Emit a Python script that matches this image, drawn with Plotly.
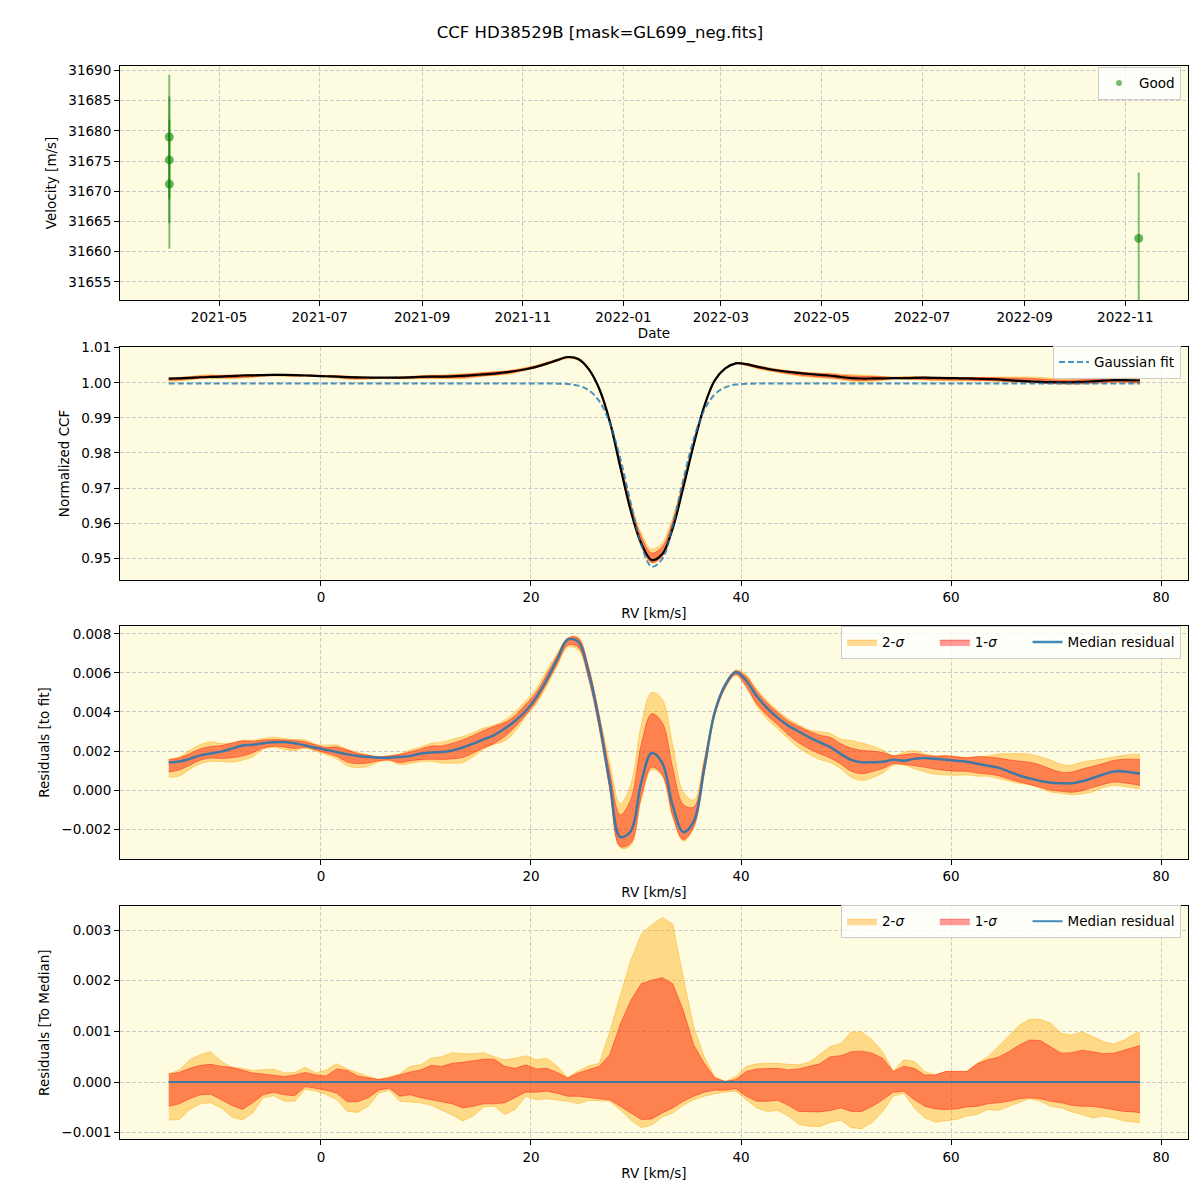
import plotly.graph_objects as go
from plotly.subplots import make_subplots

TITLE = "CCF HD38529B [mask=GL699_neg.fits]"

# --- velocity time series (top panel) ---
OBS_DATES = ["2021-03-31 20:00", "2021-03-31 21:00", "2021-03-31 22:00", "2022-11-09 04:00"]
VEL = [31679.0, 31675.2, 31671.2, 31662.2]
VEL_ERR = [10.3, 10.5, 10.7, 10.9]

# --- CCF grid [km/s] ---
RV = [-14.5, -13.5, -12.5, -11.5, -10.5, -9.5, -8.5, -7.5, -6.5, -5.5,
      -4.5, -3.5, -2.5, -1.5, -0.5, 0.5, 1.5, 2.5, 3.5, 4.5,
      5.5, 6.5, 7.5, 8.5, 9.5, 10.5, 11.5, 12.5, 13.5, 14.5,
      15.5, 16.5, 17.5, 18.5, 19.5, 20.5, 21.5, 22.5, 23.5, 24.5,
      25.5, 26.5, 27.5, 28.5, 29.5, 30.5, 31.5, 32.5, 33.5, 34.5,
      35.5, 36.5, 37.5, 38.5, 39.5, 40.5, 41.5, 42.5, 43.5, 44.5,
      45.5, 46.5, 47.5, 48.5, 49.5, 50.5, 51.5, 52.5, 53.5, 54.5,
      55.5, 56.5, 57.5, 58.5, 59.5, 60.5, 61.5, 62.5, 63.5, 64.5,
      65.5, 66.5, 67.5, 68.5, 69.5, 70.5, 71.5, 72.5, 73.5, 74.5,
      75.5, 76.5, 77.5, 78.0]

# Gaussian fit of the CCF
GAUSS_FIT = [0.9998, 0.9998, 0.9998, 0.9998, 0.9998, 0.9998, 0.9998, 0.9998, 0.9998, 0.9998,
             0.9998, 0.9998, 0.9998, 0.9998, 0.9998, 0.9998, 0.9998, 0.9998, 0.9998, 0.9998,
             0.9998, 0.9998, 0.9998, 0.9998, 0.9998, 0.9998, 0.9998, 0.9998, 0.9998, 0.9998,
             0.9998, 0.9998, 0.9998, 0.9998, 0.9998, 0.9998, 0.9998, 0.99976, 0.99964, 0.9992,
             0.9979, 0.9948, 0.9886, 0.9785, 0.9657, 0.9539, 0.9476, 0.9498, 0.9594, 0.9723,
             0.9840, 0.9922, 0.9967, 0.9987, 0.9995, 0.9997, 0.9998, 0.9998, 0.9998, 0.9998,
             0.9998, 0.9998, 0.9998, 0.9998, 0.9998, 0.9998, 0.9998, 0.9998, 0.9998, 0.9998,
             0.9998, 0.9998, 0.9998, 0.9998, 0.9998, 0.9998, 0.9998, 0.9998, 0.9998, 0.9998,
             0.9998, 0.9998, 0.9998, 0.9998, 0.9998, 0.9998, 0.9998, 0.9998, 0.9998, 0.9998,
             0.9998, 0.9998, 0.9998, 0.9998]

# median residual to the fit
RESID_MED = [0.00141, 0.00146, 0.00160, 0.00178, 0.00188, 0.00197, 0.00212, 0.00228, 0.00232, 0.00240,
             0.00245, 0.00246, 0.00240, 0.00228, 0.00217, 0.00206, 0.00195, 0.00183, 0.00175, 0.00170,
             0.00166, 0.00166, 0.00169, 0.00175, 0.00187, 0.00193, 0.00195, 0.00203, 0.00218, 0.00238,
             0.00260, 0.00282, 0.00315, 0.00355, 0.00405, 0.00475, 0.00565, 0.00670, 0.00770, 0.00760,
             0.00600, 0.00350, 0.00040, -0.00240, -0.00210, 0.00040, 0.00190, 0.00140, -0.00080, -0.00215,
             -0.00160, 0.00110, 0.00400, 0.00540, 0.00605, 0.00560, 0.00480, 0.00420, 0.00370, 0.00330,
             0.00300, 0.00270, 0.00245, 0.00220, 0.00185, 0.00155, 0.00142, 0.00143, 0.00145, 0.00155,
             0.00150, 0.00160, 0.00165, 0.00160, 0.00155, 0.00150, 0.00145, 0.00135, 0.00125, 0.00115,
             0.00095, 0.00075, 0.00060, 0.00047, 0.00038, 0.00035, 0.00035, 0.00045, 0.00062, 0.00080,
             0.00095, 0.00095, 0.00088, 0.00085]

# percentile offsets of the residuals relative to the median (units 1e-4)
OFF_2S_HI = [1.6, 2.4, 4.4, 5.4, 6.0, 4.1, 2.9, 2.7, 2.3, 2.4,
             2.6, 1.8, 1.9, 2.9, 1.8, 2.4, 3.6, 2.6, 1.8, 1.1,
             0.5, 1.1, 1.6, 3.1, 3.4, 4.7, 5.0, 5.8, 5.6, 5.6,
             5.8, 5.0, 4.4, 4.7, 5.2, 4.4, 4.7, 3.1, 0.9, 2.2,
             3.2, 3.7, 9.9, 17.1, 24.0, 29.2, 31.0, 32.5, 31.2, 20.7,
             10.9, 5.0, 1.1, 0.1, 1.1, 3.1, 3.6, 3.7, 3.7, 3.5,
             3.4, 3.9, 5.4, 7.0, 7.6, 9.9, 9.9, 8.3, 6.0, 2.1,
             4.4, 4.1, 2.1, 1.4, 2.1, 2.1, 2.1, 3.7, 5.0, 7.0,
             9.1, 11.2, 12.4, 12.4, 11.6, 9.6, 9.3, 9.9, 9.0, 8.0,
             7.5, 8.3, 9.6, 9.8]
OFF_1S_HI = [1.6, 1.9, 2.7, 3.3, 3.5, 3.1, 2.9, 2.4, 1.8, 1.6,
             1.4, 1.1, 1.4, 1.9, 1.4, 1.2, 2.6, 2.3, 1.2, 0.8,
             0.5, 0.8, 1.4, 2.0, 2.4, 3.3, 3.1, 3.7, 3.9, 4.2,
             4.5, 4.5, 3.1, 2.7, 3.4, 2.6, 2.7, 1.9, 0.8, 1.8,
             2.4, 3.1, 5.4, 11.4, 16.1, 19.4, 20.1, 20.6, 19.4, 14.2,
             7.3, 3.7, 0.8, 0.1, 0.5, 2.1, 2.6, 2.6, 2.7, 2.4,
             2.6, 3.1, 3.6, 5.0, 5.2, 6.0, 6.1, 5.7, 4.7, 2.1,
             3.1, 2.7, 1.4, 1.4, 2.1, 2.1, 2.1, 3.6, 4.4, 4.9,
             6.0, 7.3, 8.3, 8.2, 7.0, 5.7, 5.8, 6.3, 6.0, 5.6,
             5.7, 6.3, 7.0, 7.2]
OFF_1S_LO = [-4.8, -4.3, -3.3, -2.5, -2.4, -3.5, -4.6, -5.4, -4.1, -2.5,
             -2.0, -2.5, -2.7, -0.9, -1.2, -1.6, -2.2, -3.9, -3.9, -3.1,
             -1.6, -1.2, -2.8, -2.5, -3.1, -3.5, -3.8, -4.3, -5.1, -4.8,
             -4.3, -4.3, -4.1, -3.0, -2.0, -2.0, -1.8, -2.2, -2.8, -2.8,
             -3.1, -3.3, -3.5, -4.8, -6.2, -7.4, -7.3, -6.1, -5.1, -3.8,
             -2.8, -2.0, -1.6, -1.6, -1.3, -2.8, -3.8, -3.8, -3.6, -4.6,
             -5.8, -5.9, -5.9, -5.6, -5.1, -5.8, -5.8, -4.8, -3.5, -2.0,
             -1.8, -3.5, -4.8, -5.3, -5.4, -5.3, -4.9, -4.8, -4.3, -4.1,
             -3.8, -3.3, -3.1, -3.3, -3.8, -4.1, -4.6, -4.8, -4.8, -5.1,
             -5.4, -5.8, -5.9, -6.1]
OFF_2S_LO = [-7.5, -7.4, -5.4, -4.3, -4.1, -5.1, -6.9, -7.5, -6.1, -3.1,
             -2.7, -3.8, -3.8, -1.4, -1.8, -2.5, -3.5, -5.8, -6.0, -4.8,
             -2.2, -1.6, -3.8, -3.9, -4.1, -4.6, -5.6, -6.5, -7.7, -6.7,
             -4.9, -4.8, -6.4, -5.4, -2.8, -3.5, -3.3, -3.5, -3.8, -4.3,
             -3.6, -3.7, -3.8, -5.5, -7.5, -9.0, -8.5, -6.9, -6.1, -4.6,
             -3.5, -2.8, -2.3, -2.0, -1.8, -3.5, -5.1, -5.8, -5.6, -6.7,
             -8.4, -8.7, -8.8, -8.0, -7.5, -9.0, -9.2, -8.0, -5.8, -2.8,
             -2.2, -5.1, -7.1, -7.9, -7.7, -7.4, -6.7, -6.4, -5.4, -5.6,
             -4.8, -4.1, -3.3, -3.8, -4.8, -5.1, -5.9, -6.4, -7.1, -6.7,
             -7.1, -7.7, -7.9, -8.0]
OFF_UNIT = 1e-4

ORANGE_FILL = "rgba(255,165,0,0.4)"
RED_FILL = "rgba(255,0,0,0.4)"
BLUE = "rgba(31,119,180,0.85)"
BG = "#FEFCE0"
PAD = "\u00a0" * 6  # extra room between horizontal legend entries

# page offset of the plot div (browser body margin) and figure size
OFF = 8
SIZE = 1184

# derived curves
off2_hi = [o * OFF_UNIT for o in OFF_2S_HI]
off1_hi = [o * OFF_UNIT for o in OFF_1S_HI]
off1_lo = [o * OFF_UNIT for o in OFF_1S_LO]
off2_lo = [o * OFF_UNIT for o in OFF_2S_LO]
zero_med = [m - m for m in RESID_MED]

res_2hi = [m + o for m, o in zip(RESID_MED, off2_hi)]
res_1hi = [m + o for m, o in zip(RESID_MED, off1_hi)]
res_1lo = [m + o for m, o in zip(RESID_MED, off1_lo)]
res_2lo = [m + o for m, o in zip(RESID_MED, off2_lo)]

ccf_med = [g + m for g, m in zip(GAUSS_FIT, RESID_MED)]
ccf_2hi = [g + r for g, r in zip(GAUSS_FIT, res_2hi)]
ccf_1hi = [g + r for g, r in zip(GAUSS_FIT, res_1hi)]
ccf_1lo = [g + r for g, r in zip(GAUSS_FIT, res_1lo)]
ccf_2lo = [g + r for g, r in zip(GAUSS_FIT, res_2lo)]


def fx(px):
    return (px - OFF) / SIZE


def fy(py):
    return 1 - (py - OFF) / SIZE


fig = make_subplots(rows=4, cols=1)


def add_band(lo, hi, color, name, row, legend, shape="linear", show=True):
    fig.add_trace(go.Scatter(x=RV, y=lo, mode="lines", line=dict(color=color, width=1, shape=shape),
                             showlegend=False, hoverinfo="skip"), row=row, col=1)
    fig.add_trace(go.Scatter(x=RV, y=hi, mode="lines", line=dict(color=color, width=1, shape=shape),
                             fill="tonexty", fillcolor=color, name=name, legend=legend,
                             showlegend=show), row=row, col=1)


# panel 1: velocities
fig.add_trace(go.Scatter(
    x=OBS_DATES, y=VEL, mode="markers", name="Good", showlegend=False,
    marker=dict(color="rgba(0,128,0,0.6)", size=9),
    error_y=dict(type="data", array=VEL_ERR, color="rgba(0,128,0,0.5)", thickness=2, width=0),
), row=1, col=1)
# legend entry with the small marker used by the reference
fig.add_trace(go.Scatter(x=[None], y=[None], mode="markers", name="Good", legend="legend",
                         marker=dict(color="rgba(0,128,0,0.55)", size=6)), row=1, col=1)

# panel 2: CCF
add_band(ccf_2lo, ccf_2hi, ORANGE_FILL, "2-σ", 2, "legend2", shape="spline", show=False)
add_band(ccf_1lo, ccf_1hi, RED_FILL, "1-σ", 2, "legend2", shape="spline", show=False)
fig.add_trace(go.Scatter(x=RV, y=ccf_med, mode="lines", line=dict(color="black", width=2.2, shape="spline"),
                         showlegend=False), row=2, col=1)
fig.add_trace(go.Scatter(x=RV, y=GAUSS_FIT, mode="lines", name="Gaussian fit", legend="legend2",
                         line=dict(color="rgba(31,119,180,0.8)", width=2, dash="6px,3px", shape="spline")),
              row=2, col=1)

# panel 3: residuals to fit
add_band(res_2lo, res_2hi, ORANGE_FILL, "2-<i>σ</i>" + PAD, 3, "legend3", shape="spline")
add_band(res_1lo, res_1hi, RED_FILL, "1-<i>σ</i>" + PAD, 3, "legend3", shape="spline")
fig.add_trace(go.Scatter(x=RV, y=RESID_MED, mode="lines", name="Median residual", legend="legend3",
                         line=dict(color=BLUE, width=2.5, shape="spline")), row=3, col=1)

# panel 4: residuals to median
add_band(off2_lo, off2_hi, ORANGE_FILL, "2-<i>σ</i>" + PAD, 4, "legend4")
add_band(off1_lo, off1_hi, RED_FILL, "1-<i>σ</i>" + PAD, 4, "legend4")
fig.add_trace(go.Scatter(x=RV, y=zero_med, mode="lines", name="Median residual", legend="legend4",
                         line=dict(color=BLUE, width=2)), row=4, col=1)

axis_style = dict(showline=True, linecolor="black", linewidth=1, mirror=True,
                  ticks="outside", ticklen=5, tickcolor="black", tickfont=dict(size=13.5),
                  showgrid=True, gridcolor="#cccccc", gridwidth=1, griddash="4px,2px",
                  zeroline=False)

x_dom = [fx(120), fx(1188)]
y_doms = [(59, 295), (342, 577), (623, 858), (905, 1140)]
for i, (top, bot) in enumerate(y_doms, start=1):
    fig.update_xaxes(domain=x_dom, row=i, col=1, **axis_style)
    fig.update_yaxes(domain=[fy(bot), fy(top)], row=i, col=1, **axis_style)

fig.update_xaxes(row=1, col=1, type="date", range=["2021-03-02", "2022-12-09"],
                 tick0="2021-01-01", dtick="M2", tickformat="%Y-%m",
                 title=dict(text="Date", standoff=4, font=dict(size=13.5)))
fig.update_yaxes(row=1, col=1, range=[31652.0, 31690.8], dtick=5, tick0=31655, tickformat="d",
                 title=dict(text="Velocity [m/s]", standoff=8, font=dict(size=13.5)))

for r in (2, 3, 4):
    fig.update_xaxes(row=r, col=1, range=[-19.14, 82.57], tick0=0, dtick=20,
                     title=dict(text="RV [km/s]", standoff=4, font=dict(size=13.5)))

fig.update_yaxes(row=2, col=1, range=[0.94377, 1.01027], dtick=0.01, tick0=0.95, tickformat=".2f",
                 title=dict(text="Normalized CCF", standoff=8, font=dict(size=13.5)))
fig.update_yaxes(row=3, col=1, range=[-0.00354, 0.00841], dtick=0.002, tick0=0, tickformat=".3f",
                 title=dict(text="Residuals [to fit]", standoff=8, font=dict(size=13.5)))
fig.update_yaxes(row=4, col=1, range=[-0.001131, 0.003476], dtick=0.001, tick0=0, tickformat=".3f",
                 title=dict(text="Residuals [To Median]", standoff=8, font=dict(size=13.5)))

legend_style = dict(xanchor="right", yanchor="top", bgcolor="rgba(255,255,255,0.8)",
                    bordercolor="#cccccc", borderwidth=1, font=dict(size=13.5),
                    traceorder="normal")

fig.update_layout(
    width=SIZE, height=SIZE,
    margin=dict(l=0, r=0, t=0, b=0),
    paper_bgcolor="white", plot_bgcolor=BG,
    font=dict(family="DejaVu Sans", size=13.5, color="black"),
    title=dict(text=TITLE, x=fx(600), xanchor="center", y=fy(32), yanchor="middle",
               font=dict(size=16.5)),
    legend=dict(x=fx(1181), y=fy(60), **legend_style),
    legend2=dict(x=fx(1181), y=fy(341), **legend_style),
    legend3=dict(x=fx(1181), y=fy(623), orientation="h", **legend_style),
    legend4=dict(x=fx(1181), y=fy(904), orientation="h", **legend_style),
)

fig.write_html("out.html")
